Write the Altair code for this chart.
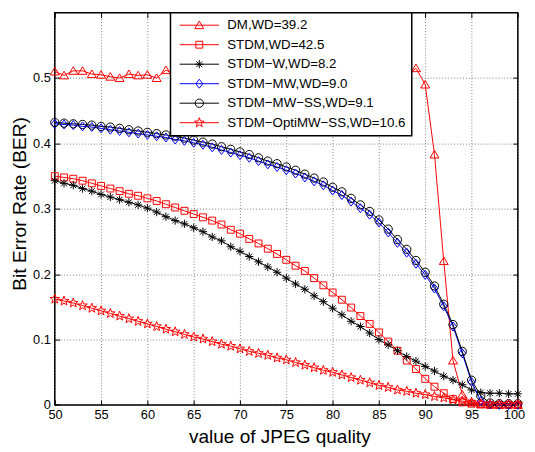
import math
import altair as alt
import pandas as pd

quality = list(range(50, 101))
names = ["DM,WD=39.2", "STDM,WD=42.5", "STDM−W,WD=8.2", "STDM−MW,WD=9.0",
         "STDM−MW−SS,WD=9.1", "STDM−OptiMW−SS,WD=10.6"]
colors = ["#ff0000", "#ff0000", "#000000", "#0000ff", "#000000", "#ff0000"]

dm = [.510, .504, .511, .511, .506, .505, .502, .500, .506, .504, .505, .500, .512,
      .506, .503, .508, .501, .505, .509, .502, .504, .507, .500, .505, .503, .508,
      .502, .506, .501, .504, .507, .503, .505, .500, .506, .503, .505, .504, .503,
      .515, .490, .383, .220, .068, .016, .004, .001, .001, .000, .001, .000]
stdm = [.350, .348, .346, .343, .339, .335, .331, .327, .323, .320, .316, .312, .307,
        .302, .297, .292, .287, .282, .276, .268, .262, .254, .247, .239, .231, .222,
        .213, .205, .194, .183, .172, .161, .149, .136, .124, .111, .097, .083, .068,
        .055, .040, .028, .018, .009, .004, .002, .001, .000, .000, .000, .000]
stdm_w = [.343, .339, .336, .331, .327, .322, .318, .314, .310, .306, .301, .295, .288,
          .282, .277, .271, .265, .257, .251, .242, .235, .227, .219, .211, .203, .194,
          .185, .177, .167, .158, .148, .138, .128, .120, .110, .100, .092, .083, .074,
          .067, .059, .052, .044, .038, .031, .023, .019, .018, .018, .017, .017]
stdm_mw = [.430, .429, .428, .426, .425, .423, .421, .419, .417, .415, .413, .411, .409,
           .406, .404, .401, .398, .394, .390, .386, .382, .378, .373, .368, .364, .359,
           .354, .348, .342, .336, .328, .321, .311, .301, .291, .279, .264, .248, .233,
           .216, .199, .178, .151, .120, .079, .035, .006, .001, .000, .000, .000]
stdm_mw_ss = [.432, .431, .430, .429, .428, .426, .425, .423, .421, .419, .417, .415, .413,
              .411, .408, .405, .402, .399, .395, .391, .387, .383, .378, .373, .369, .364,
              .359, .353, .347, .341, .333, .326, .316, .306, .296, .283, .269, .253, .238,
              .221, .203, .182, .154, .123, .082, .038, .014, .003, .002, .002, .002]
stdm_opti = [.162, .159, .156, .152, .148, .144, .140, .136, .132, .128, .124, .120, .116,
             .112, .108, .104, .101, .097, .093, .090, .086, .082, .079, .076, .072, .069,
             .065, .061, .057, .053, .050, .046, .042, .038, .034, .030, .027, .023, .021,
             .018, .016, .013, .011, .008, .006, .004, .002, .001, .001, .001, .001]

x_ticks = list(range(50, 101, 5))
y_ticks = [0, 0.1, 0.2, 0.3, 0.4, 0.5]

series = [dm, stdm, stdm_w, stdm_mw, stdm_mw_ss, stdm_opti]
rows = []
for nm, vals in zip(names, series):
    for q, v in zip(quality, vals):
        rows.append({"q": q, "ber": v, "name": nm})
df = pd.DataFrame(rows)

# marker glyphs (unit square paths)
def star_path(ro=1.45, ri=0.6):
    pts = []
    for k in range(10):
        r = ro if k % 2 == 0 else ri
        a = math.radians(-90 + 36 * k)
        pts.append(f"{r*math.cos(a):.3f},{r*math.sin(a):.3f}")
    return "M" + "L".join(pts) + "Z"

tri = "M0,-1.2L1.3,1L-1.3,1Z"
sq = "M-1,-1L1,-1L1,1L-1,1Z"
ast = "M-1.2,0L1.2,0M0,-1.2L0,1.2M-0.85,-0.85L0.85,0.85M-0.85,0.85L0.85,-0.85"
dia = "M0,-1.3L1,0L0,1.3L-1,0Z"
circ = "M1.2,0A1.2,1.2,0,1,1,-1.2,0A1.2,1.2,0,1,1,1.2,0Z"
star = star_path()
shapes = [tri, sq, ast, dia, circ, star]
leg_line = "M-5.7,0L5.7,0"
legend_shapes = [s + leg_line for s in shapes]

FONT = "Liberation Sans"
W, H = 470.2, 398.4

xs = alt.Scale(domain=[50, 100], nice=False, zero=False)
ys = alt.Scale(domain=[0, 0.6], nice=False)
color_scale = alt.Scale(domain=names, range=colors)

base = alt.Chart(df)

lines = base.mark_line(strokeWidth=1).encode(
    x=alt.X("q:Q", scale=xs, axis=alt.Axis(
        orient="top", offset=-5, tickSize=5, values=x_ticks, labels=False,
        grid=False, domain=False, title=None, tickColor="black")),
    y=alt.Y("ber:Q", scale=ys, axis=alt.Axis(
        orient="right", offset=-5, tickSize=5, values=y_ticks, labels=False,
        grid=False, domain=False, title=None, tickColor="black")),
    color=alt.Color("name:N", scale=color_scale, legend=None),
)

points = base.mark_point(filled=False, strokeWidth=1, size=49, opacity=1).encode(
    x=alt.X("q:Q", scale=xs, axis=alt.Axis(
        orient="bottom", offset=-5, tickSize=5, values=x_ticks, grid=True,
        domain=False, tickColor="black", labelPadding=4, labelFont=FONT,
        labelFontSize=13, labelColor="black", labelFlush=True,
        labelFlushOffset=7,
        gridColor="#000", gridOpacity=0.5,
        gridDash=[1, 2], title="value of JPEG quality", titleFont=FONT,
        titleFontSize=19.3, titleFontWeight="normal", titleColor="black",
        titleX=228, titleY=43.3, titleBaseline="alphabetic", titleAlign="center")),
    y=alt.Y("ber:Q", scale=ys, axis=alt.Axis(
        orient="left", offset=-5, tickSize=5, values=y_ticks, grid=True,
        domain=False, tickColor="black", labelPadding=4.5, labelFont=FONT,
        labelFontSize=13, labelColor="black", labelFlush=False, format=".1~f",
        gridColor="#000", gridOpacity=0.5, gridDash=[1, 2],
        title="Bit Error Rate (BER)",
        titleFont=FONT, titleFontSize=19.5, titleFontWeight="normal",
        titleColor="black", titleX=-34.7, titleY=193.7, titleAngle=270,
        titleBaseline="alphabetic", titleAlign="center")),
    color=alt.Color("name:N", scale=color_scale, legend=None),
    shape=alt.Shape("name:N", scale=alt.Scale(domain=names, range=shapes), legend=None),
)

legend_props = dict(
    orient="none", legendX=117.5, legendY=0, title=None, fillColor="white",
    strokeColor="black", padding=6, labelFont=FONT, labelFontSize=13.5,
    labelColor="black", labelLimit=400, rowPadding=4.8, symbolSize=49,
    symbolStrokeWidth=1, symbolOffset=16.5, labelOffset=21.6, zindex=1,
)

legend_layer = base.transform_filter("false").mark_point(
    filled=False, strokeWidth=1, size=49, opacity=1
).encode(
    x=alt.X("q:Q", scale=xs, axis=None),
    y=alt.Y("ber:Q", scale=ys, axis=None),
    color=alt.Color("name:N", scale=color_scale, legend=alt.Legend(**legend_props)),
    shape=alt.Shape("name:N", scale=alt.Scale(domain=names, range=legend_shapes),
                    legend=alt.Legend(**legend_props)),
)

chart = alt.layer(lines, points, legend_layer).resolve_axis(
    x="independent", y="independent"
).resolve_scale(shape="independent", color="independent").properties(
    width=W, height=H,
    padding={"left": 47.5, "top": 1.3, "right": 9.3, "bottom": 43.7},
    autosize=alt.AutoSizeParams(type="none"),
).configure_view(stroke="black", strokeWidth=1.5).configure_legend(strokeWidth=1.5)

chart.save("out.html", embed_options={"renderer": "svg", "actions": False})
